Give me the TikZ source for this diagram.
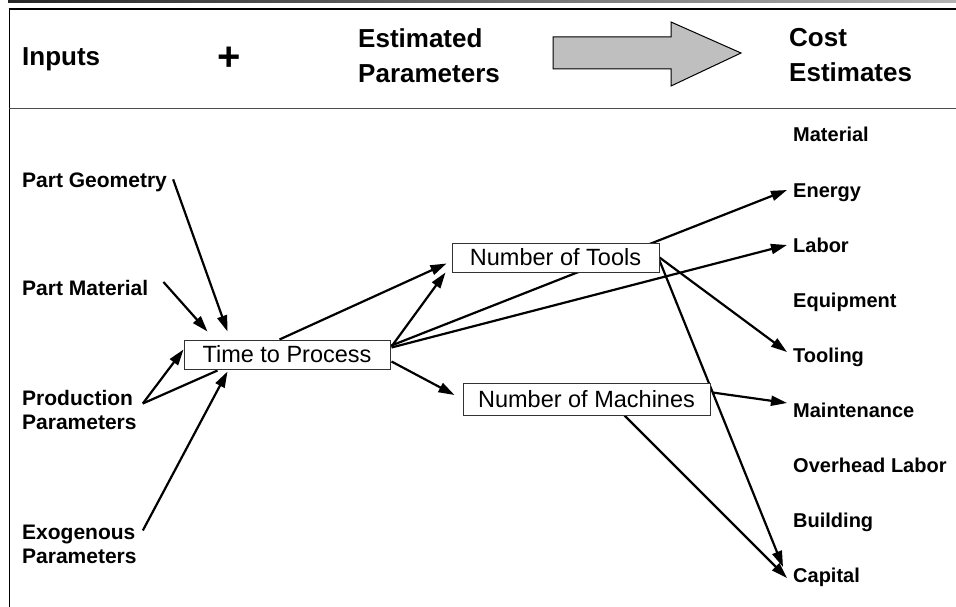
\documentclass[tikz,border=0pt]{standalone}
\usepackage{fontspec}
\setmainfont{Liberation Sans}
\usetikzlibrary{arrows.meta,calc}
\pgfdeclarelayer{bg}
\pgfsetlayers{bg,main}
\begin{document}
\begin{tikzpicture}[x=1pt,y=-1pt,
  conn/.style={line width=2.2pt},
  arr/.style={conn,-{Triangle[length=16pt,width=10pt]}},
  lbl/.style={font=\fontsize{21}{24}\selectfont\bfseries, inner sep=0pt, align=left},
  rlbl/.style={font=\fontsize{20}{24}\selectfont\bfseries, inner sep=0pt},
  hdr/.style={font=\fontsize{26}{35}\selectfont\bfseries, inner sep=0pt, align=left},
  boxnode/.style={draw=black!80, line width=1pt, fill=white, inner sep=0pt,
                  font=\fontsize{23.5}{28}\selectfont}]
\useasboundingbox (0,0) rectangle (956,607);

% header frame
\shade[left color=black!85, right color=black!30] (8,0) rectangle (956,2.5);
\draw[line width=2pt] (8.5,9.3) -- (956,9.3);
\draw[line width=1.5pt] (9.3,8.3) -- (9.3,607);
\draw[line width=1.2pt, black!70] (9.3,108.5) -- (956,108.5);

% header texts
\node[hdr, anchor=base west] (hin) at (22,66) {Inputs};
\node[font=\fontsize{40}{42}\selectfont\bfseries, inner sep=0pt] (hplus) at (229,59) {+};
\node[hdr, anchor=north west] (hest) at (358,28.4) {Estimated\\Parameters};
\node[hdr, anchor=north west] (hcost) at (789,28.4) {Cost\\Estimates};
\draw[fill=black!25, line width=1pt] (553,37) -- (671,37) -- (671,22) -- (741,53)
   -- (671,86) -- (671,69) -- (553,69) -- cycle;

% left inputs
\node[lbl, anchor=base west] (pg) at (22,187.5) {Part Geometry};
\node[lbl, anchor=base west] (pm) at (22,295.5) {Part Material};
\node[lbl, anchor=north west] (pp) at (22,390.5) {Production\\Parameters};
\node[lbl, anchor=north west] (ep) at (22,524.5) {Exogenous\\Parameters};

% parameter boxes
\node[boxnode, minimum width=206pt, minimum height=29pt] (tp) at (287,354.5) {Time to Process};
\node[boxnode, minimum width=207pt, minimum height=29pt] (nt) at (555.5,257.5) {Number of Tools};
\node[boxnode, minimum width=247pt, minimum height=32pt] (nm) at (586.5,399) {Number of Machines};

% cost estimates
\node[rlbl, anchor=base west] (cmat) at (793,142) {Material};
\node[rlbl, anchor=base west] (cen)  at (793,197) {Energy};
\node[rlbl, anchor=base west] (clab) at (793,252) {Labor};
\node[rlbl, anchor=base west] (ceq)  at (793,307) {Equipment};
\node[rlbl, anchor=base west] (ctl)  at (793,362) {Tooling};
\node[rlbl, anchor=base west] (cmn)  at (793,417) {Maintenance};
\node[rlbl, anchor=base west] (coh)  at (793,472) {Overhead Labor};
\node[rlbl, anchor=base west] (cbd)  at (793,527) {Building};
\node[rlbl, anchor=base west] (ccp)  at (793,582) {Capital};

\begin{pgfonlayer}{bg}
% inputs to time
\draw[arr] ($(pg.east)+(6,-3)$) -- ($(tp.north west)+(44,-8)$);
\draw[arr] ($(pm.east)+(15,-6)$) -- ($(tp.north west)+(24,-8)$);
\draw[arr] ($(pp.north east)+(6,13)$) -- ($(tp.north west)+(0,10)$);
\draw[conn] ($(pp.north east)+(6,13)$) -- ($(tp.south west)+(34,1)$);
\draw[arr] ($(ep.north east)+(6,6)$) -- ($(tp.south west)+(44,2)$);
% time to parameters and costs
\draw[arr] ($(tp.north west)+(96,0)$) -- ($(nt.south west)+(-5,-9)$);
\draw[arr] ($(tp.north east)+(1,7)$) -- ($(nt.south west)+(-6,0)$);
\draw[arr] ($(tp.north east)+(1,6)$) -- ($(cen.base west)+(-6,-7)$);
\draw[arr] ($(tp.north east)+(1,8)$) -- ($(clab.base west)+(-6,-7)$);
\draw[arr] ($(tp.north east)+(1,22)$) -- ($(nm.west)+(-8,-4)$);
% tools to costs
\draw[arr] ($(nt.east)+(0,0)$) -- ($(ctl.base west)+(-6,-10)$);
\draw[arr] ($(nt.east)+(0,3)$) -- ($(ccp.base west)+(-10,-15)$);
% machines to costs
\draw[arr] ($(nm.north east)+(2,10)$) -- ($(cmn.base west)+(-6,-14)$);
\draw[arr] ($(nm.south west)+(162,0)$) -- ($(ccp.base west)+(-6,-4)$);
\end{pgfonlayer}
\end{tikzpicture}
\end{document}
